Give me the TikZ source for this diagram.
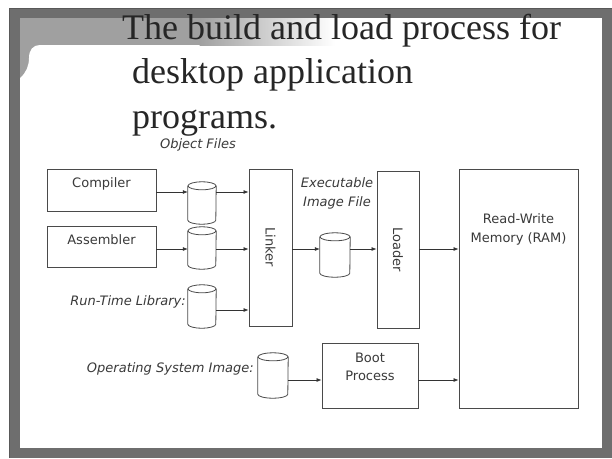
\documentclass[tikz,border=0pt]{standalone}
\usepackage{fontspec}
\setmainfont{Liberation Serif}
\newfontfamily\labfont{DejaVu Sans}
\usetikzlibrary{arrows.meta,calc}
\definecolor{frame}{HTML}{6E6E6E}
\definecolor{band}{HTML}{A0A0A0}
\definecolor{ink}{HTML}{4A4A4A}
\definecolor{txt}{HTML}{3A3A3A}
\tikzset{
  box/.style={draw=ink, line width=0.9pt, rectangle, inner sep=0pt},
  cylbox/.style={rectangle, inner sep=0pt, minimum width=28pt, minimum height=42pt},
  cylline/.style={draw=ink, line width=0.8pt},
  arr/.style={draw=black!80, line width=0.7pt, -{Latex[length=5pt,width=4pt]}},
  lab/.style={font=\labfont\fontsize{13}{15}\selectfont, text=txt, inner sep=0pt},
  ilab/.style={lab, font=\labfont\itshape\fontsize{13}{15}\selectfont},
  ttl/.style={font=\fontsize{36}{43}\selectfont, text=black!85, inner sep=0pt, anchor=base west}
}
% #1 node name, #2 x radius
\newcommand\drawcylinder[2]{%
  \draw[cylline, fill=white] ($(#1.north west)+(0,4)$) -- ($(#1.south west)+(0,-4)$)
    arc[start angle=180, end angle=0, x radius=#2, y radius=4]
    -- ($(#1.north east)+(0,4)$);
  \draw[cylline] ($(#1.north)+(0,4)$) ellipse[x radius=#2, y radius=4];
}
\begin{document}
\begin{tikzpicture}[x=1pt,y=-1pt]
\useasboundingbox (0,0) rectangle (612,458);
% frame
\fill[white] (0,0) rectangle (612,458);
\fill[frame] (9,8) rectangle (612,458);
\draw[black!65, line width=0.8pt] (9.4,8.4) -- (611.6,8.4);
\draw[black!65, line width=0.8pt] (9.4,8.4) -- (9.4,458);
\fill[white] (20,18) rectangle (602,448);
% top band
\fill[band] (20,18) rectangle (200,45);
\shade[left color=band, right color=white] (199.5,18) rectangle (335,45);
\fill[band] (20,44) rectangle (40,80);
\fill[white] (20,80) -- (20,78) .. controls (26,73) and (29,66) .. (29,58)
  .. controls (29,50) and (33,45) .. (40,45) -- (60,45) -- (60,80) -- cycle;
% title
\node[ttl] (t1) at (122,39) {The build and load process for};
\node[ttl] (t2) at (132,83) {desktop application};
\node[ttl] (t3) at (132,128) {programs.};
% boxes
\node[box, minimum width=109pt, minimum height=42pt] (comp) at (101.5,190) {};
\node[box, minimum width=109pt, minimum height=41pt] (asm) at (101.5,246.5) {};
\node[box, minimum width=43pt, minimum height=157pt] (linker) at (270.5,247.5) {};
\node[box, minimum width=42pt, minimum height=157pt] (loader) at (398,249.5) {};
\node[box, minimum width=119pt, minimum height=239pt] (ram) at (518.5,288.5) {};
\node[box, minimum width=96pt, minimum height=65pt] (boot) at (370,375.5) {};
% cylinders
\node[cylbox] (c1) at (202,203) {};
\node[cylbox] (c2) at (202,248) {};
\node[cylbox, minimum height=43pt] (c3) at (202,306.5) {};
\node[cylbox, minimum width=30pt, minimum height=44pt] (c4) at (335,255) {};
\node[cylbox, minimum width=30pt, minimum height=45pt] (c5) at (273,375.5) {};
\drawcylinder{c1}{14}
\drawcylinder{c2}{14}
\drawcylinder{c3}{14}
\drawcylinder{c4}{15}
\drawcylinder{c5}{15}
% texts
\node[lab, anchor=base] (compt) at (101.5,187) {Compiler};
\node[lab, anchor=base] (asmt) at (101.5,244) {Assembler};
\node[lab, rotate=-90] (linkt) at (linker.center) {Linker};
\node[lab, rotate=-90] (loadt) at (loader.center) {Loader};
\node[lab, anchor=base] (ramt1) at (518.5,223) {Read-Write};
\node[lab, anchor=base] (ramt2) at (518.5,242) {Memory (RAM)};
\node[lab, anchor=base] (boott1) at (370,362) {Boot};
\node[lab, anchor=base] (boott2) at (370,380) {Process};
\node[ilab, anchor=base] (objf) at (198,148) {Object Files};
\node[ilab, anchor=base] (exe1) at (337,187) {Executable};
\node[ilab, anchor=base] (exe2) at (337,206) {Image File};
\node[ilab, anchor=base east] (rtl) at (186,305) {Run-Time Library:};
\node[ilab, anchor=base east] (osi) at (254,372) {Operating System Image:};
% connectors
\coordinate (ycomp) at (156,192);
\coordinate (yasm) at (156,249);
\draw[arr] (comp.east |- ycomp) -- (c1.west |- ycomp);
\draw[arr] (c1.east |- ycomp) -- (linker.west |- ycomp);
\draw[arr] (asm.east |- yasm) -- (c2.west |- yasm);
\draw[arr] (c2.east |- yasm) -- (linker.west |- yasm);
\coordinate (yrt) at (216,310);
\draw[arr] (c3.east |- yrt) -- (linker.west |- yrt);
\draw[arr] (linker.east |- yasm) -- (c4.west |- yasm);
\draw[arr] (c4.east |- yasm) -- (loader.west |- yasm);
\draw[arr] (loader.east |- yasm) -- (ram.west |- yasm);
\coordinate (yboot) at (288,380);
\draw[arr] (c5.east |- yboot) -- (boot.west |- yboot);
\draw[arr] (boot.east |- yboot) -- (ram.west |- yboot);
\end{tikzpicture}
\end{document}
